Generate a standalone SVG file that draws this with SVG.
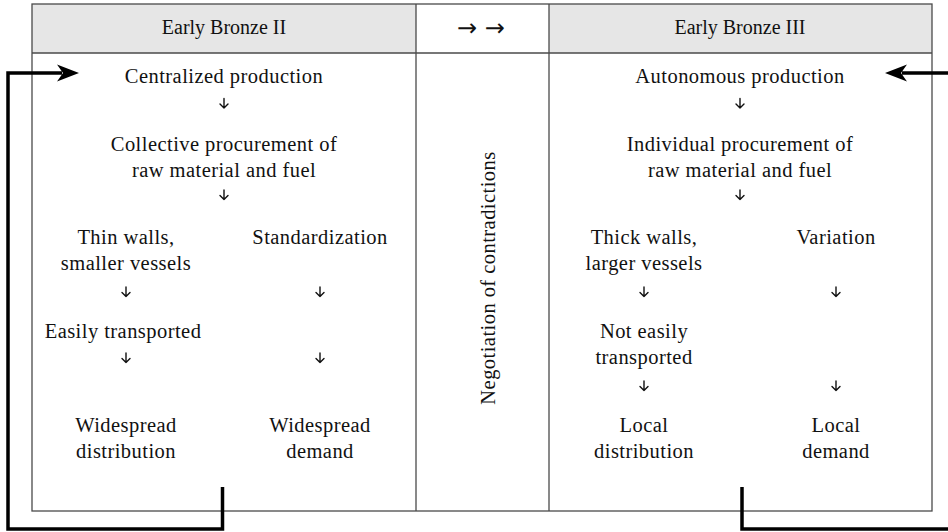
<svg xmlns="http://www.w3.org/2000/svg" width="948" height="532" viewBox="0 0 948 532">
<style>
.t{font-family:"Liberation Serif","Times New Roman",serif;font-size:20.5px;fill:#111;text-anchor:middle;letter-spacing:0.45px}
.h{font-family:"Liberation Serif","Times New Roman",serif;font-size:20px;fill:#111;text-anchor:middle}
.ha{font-family:"DejaVu Sans",sans-serif;font-size:24px;fill:#111;text-anchor:middle}
.grid{stroke:#4a4a4a;stroke-width:1.3;fill:none}
.fb{stroke:#000;stroke-width:3.5;fill:none}
.da{stroke:#111;stroke-width:1.4;fill:none;stroke-linecap:round;stroke-linejoin:round}
</style>
<defs>
<path id="down" d="M0,0 V9.5 M-4,5.5 L0,9.5 L4,5.5"/>
</defs>
<g id="table">
<rect x="32" y="4" width="384" height="49" fill="#e6e6e6"/>
<rect x="549" y="4" width="383" height="49" fill="#e6e6e6"/>
<rect class="grid" x="32" y="4" width="900" height="507"/>
<line class="grid" x1="32" y1="53" x2="932" y2="53"/>
<line class="grid" x1="416" y1="4" x2="416" y2="511"/>
<line class="grid" x1="549" y1="4" x2="549" y2="511"/>
</g>
<g id="header">
<text class="h" x="224" y="34">Early Bronze II</text>
<text class="ha" x="481" y="36">→ →</text>
<text class="h" x="740" y="34">Early Bronze III</text>
</g>
<g id="middle">
<text class="t" font-size="23" letter-spacing="0.6" transform="translate(495,278) rotate(-90)" x="0" y="0">Negotiation of contradictions</text>
</g>
<g id="eb2">
<text class="t" x="224" y="83">Centralized production</text>
<text class="t" x="224" y="151">Collective procurement of</text>
<text class="t" x="224" y="177">raw material and fuel</text>
<text class="t" x="126" y="244">Thin walls,</text>
<text class="t" x="126" y="270">smaller vessels</text>
<text class="t" x="320" y="244">Standardization</text>
<text class="t" x="123" y="338">Easily transported</text>
<text class="t" x="126" y="432">Widespread</text>
<text class="t" x="126" y="458">distribution</text>
<text class="t" x="320" y="432">Widespread</text>
<text class="t" x="320" y="458">demand</text>
</g>
<g id="eb3">
<text class="t" x="740" y="83">Autonomous production</text>
<text class="t" x="740" y="151">Individual procurement of</text>
<text class="t" x="740" y="177">raw material and fuel</text>
<text class="t" x="644" y="244">Thick walls,</text>
<text class="t" x="644" y="270">larger vessels</text>
<text class="t" x="836" y="244">Variation</text>
<text class="t" x="644" y="338">Not easily</text>
<text class="t" x="644" y="364">transported</text>
<text class="t" x="644" y="432">Local</text>
<text class="t" x="644" y="458">distribution</text>
<text class="t" x="836" y="432">Local</text>
<text class="t" x="836" y="458">demand</text>
</g>
<g id="connectors">
<g class="da">
<use href="#down" x="224" y="98.5"/>
<use href="#down" x="224" y="190"/>
<use href="#down" x="126" y="287"/>
<use href="#down" x="320" y="287"/>
<use href="#down" x="126" y="353"/>
<use href="#down" x="320" y="353"/>
<use href="#down" x="740" y="98.5"/>
<use href="#down" x="740" y="190"/>
<use href="#down" x="644" y="287"/>
<use href="#down" x="836" y="287"/>
<use href="#down" x="644" y="381"/>
<use href="#down" x="836" y="381"/>
</g>
<path class="fb" d="M222.5,487 V529 H8 V73 H62"/>
<polygon points="79,73 57,64.5 63,73 57,81.5" fill="#000"/>
<path class="fb" d="M742,487 V529 H952 V73 H902"/>
<polygon points="885,73 907,64.5 901,73 907,81.5" fill="#000"/>
</g>
</svg>
